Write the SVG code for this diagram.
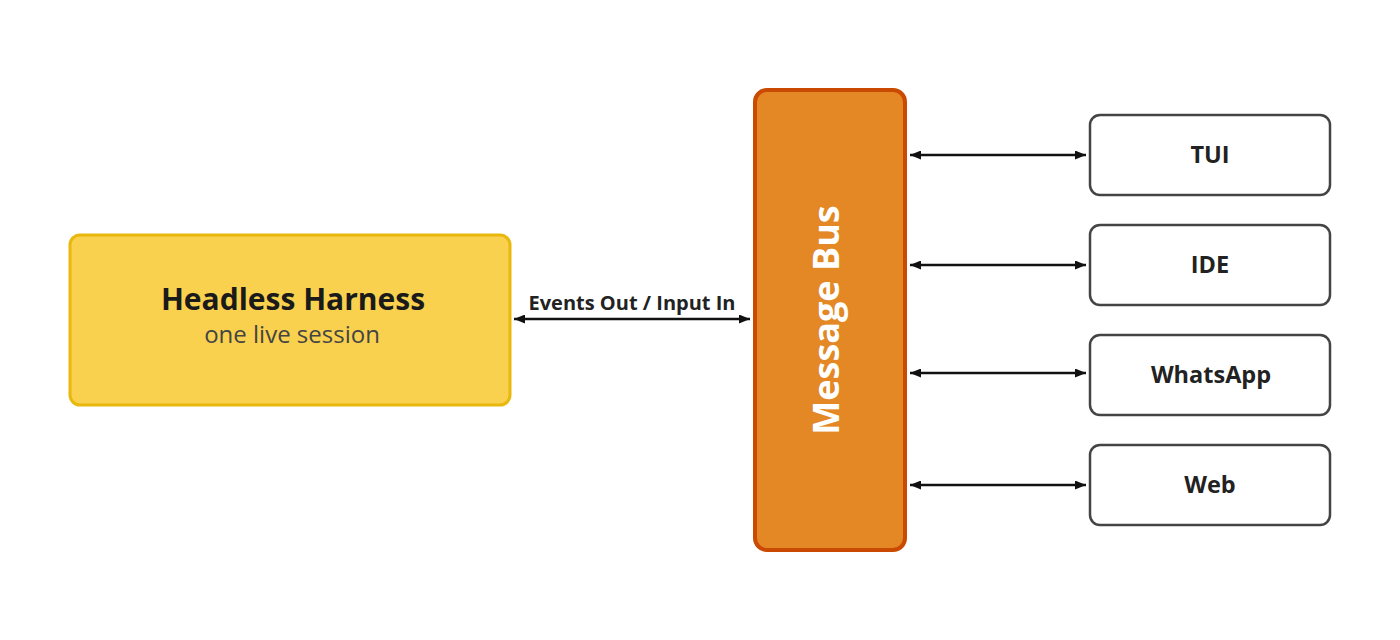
<svg xmlns="http://www.w3.org/2000/svg" width="1400" height="640" viewBox="0 0 1400 640">
<defs>
<marker id="ah" viewBox="0 0 10 10" refX="10" refY="5" markerWidth="4.4" markerHeight="3.6" orient="auto-start-reverse" markerUnits="strokeWidth" preserveAspectRatio="none">
<path d="M0,0 L10,5 L0,10 z" fill="#111"/>
</marker>
<style>
.edge{stroke:#111;stroke-width:2.5;fill:none;marker-start:url(#ah);marker-end:url(#ah)}
.client rect{fill:#fff;stroke:#444;stroke-width:2.5}
.client text{font-family:"Open Sans",sans-serif;font-weight:700;font-size:23.5px;fill:#222;text-anchor:middle}
</style>
</defs>
<rect width="1400" height="640" fill="#fff"/>
<g id="harness">
<rect x="70" y="235" width="440" height="170" rx="10" fill="#F9D14E" stroke="#E9B80C" stroke-width="3"/>
<text x="293" y="310" font-family="Open Sans, sans-serif" font-weight="700" font-size="30" fill="#1a1a1a" text-anchor="middle">Headless Harness</text>
<text x="292" y="343" font-family="Open Sans, sans-serif" font-size="24" fill="#444" text-anchor="middle">one live session</text>
</g>
<g id="bus">
<rect x="755" y="90" width="150" height="460" rx="12" fill="#E38825" stroke="#C94A00" stroke-width="4"/>
<text transform="translate(839,320) rotate(-90)" font-family="Open Sans, sans-serif" font-weight="700" font-size="36" fill="#fff" text-anchor="middle">Message Bus</text>
</g>
<g id="tui" class="client"><rect x="1090" y="115" width="240" height="80" rx="10"/><text x="1210" y="163">TUI</text></g>
<g id="ide" class="client"><rect x="1090" y="225" width="240" height="80" rx="10"/><text x="1210" y="273">IDE</text></g>
<g id="whatsapp" class="client"><rect x="1090" y="335" width="240" height="80" rx="10"/><text x="1211" y="383">WhatsApp</text></g>
<g id="web" class="client"><rect x="1090" y="445" width="240" height="80" rx="10"/><text x="1210" y="493">Web</text></g>
<g id="connectors">
<line class="edge" x1="514" y1="319" x2="750" y2="319"/>
<text x="632" y="310" font-family="Open Sans, sans-serif" font-weight="700" font-size="20" fill="#222" text-anchor="middle">Events Out / Input In</text>
<line class="edge" x1="910" y1="155" x2="1086" y2="155"/>
<line class="edge" x1="910" y1="265" x2="1086" y2="265"/>
<line class="edge" x1="910" y1="373" x2="1086" y2="373"/>
<line class="edge" x1="910" y1="485" x2="1086" y2="485"/>
</g>
</svg>
